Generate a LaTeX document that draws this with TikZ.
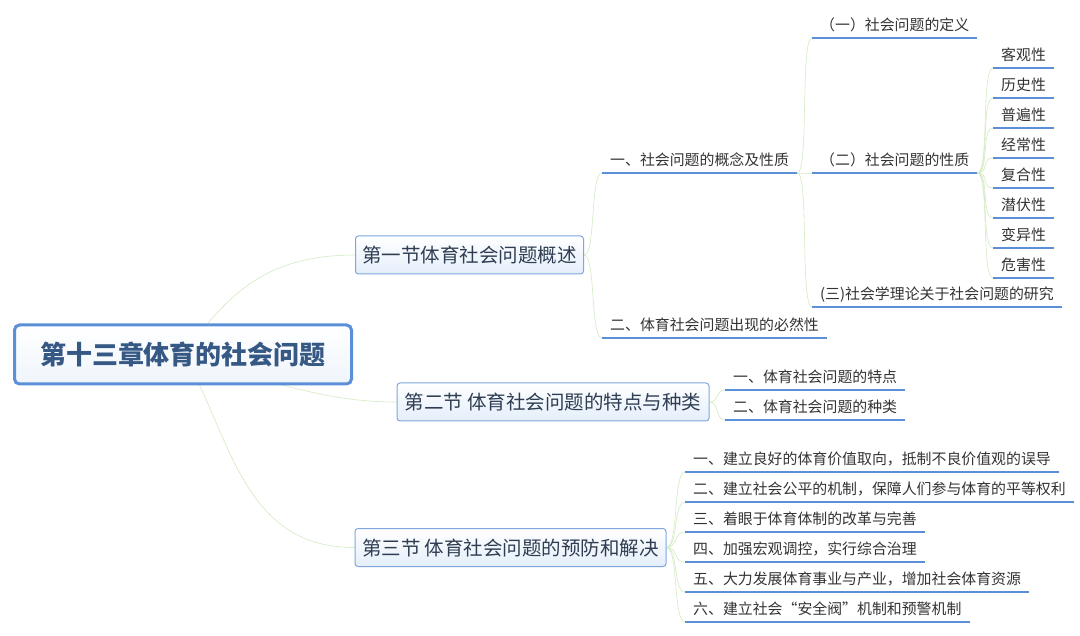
\documentclass[tikz,border=0pt]{standalone}
\usepackage{fontspec}
\setmainfont{Noto Sans CJK SC}
\usetikzlibrary{positioning, backgrounds}

\definecolor{lineblue}{HTML}{5B8FD6}
\definecolor{boxline}{HTML}{7FA7DE}
\definecolor{boxbot}{HTML}{E4EEFA}
\definecolor{rootline}{HTML}{5B8FD8}
\definecolor{roottext}{HTML}{365884}
\definecolor{sectext}{HTML}{2E3D52}
\definecolor{leaftext}{HTML}{333333}
\definecolor{linkgreen}{HTML}{D3EBC2}

\begin{document}
\begin{tikzpicture}[
        x=1pt, y=-1pt,
        root/.style={draw=rootline, line width=3pt, rounded corners=5pt, top color=white, bottom color=boxbot!60,
            text=roottext, font=\fontsize{26}{30}\selectfont\bfseries, text height=19.8pt, text depth=0pt,
            minimum width=337pt, minimum height=59pt},
        sec/.style={draw=boxline, line width=1pt, rounded corners=3pt, top color=white, bottom color=boxbot,
            text=sectext, font=\fontsize{19.5}{23}\selectfont, text height=15.4pt, text depth=0.4pt,
            minimum height=38pt},
        leaf/.style={anchor=south west, text=leaftext, font=\fontsize{14.9}{17}\selectfont,
            inner xsep=8pt, inner ysep=0pt, text height=12pt, text depth=7.4pt,
            append after command={\pgfextra{\draw[lineblue, line width=1.6pt]
                (\tikzlastnode.south west) -- (\tikzlastnode.south east);}}},
        link/.style={draw=linkgreen, line width=0.6pt}
        ]
        \useasboundingbox (0,0) rectangle (1080,636);
        % centre and the three sections
        \node[root] (root) at (183,354.5) {第十三章体育的社会问题};
        \node[sec, minimum width=228pt] (sec1) at (469.5,255) {第一节体育社会问题概述};
        \node[sec, minimum width=312pt] (sec2) at (553,402) {第二节 体育社会问题的特点与种类};
        \node[sec, minimum width=311pt] (sec3) at (510.5,547.5) {第三节 体育社会问题的预防和解决};
        % section one
        \node[leaf] (s1a) at (602,173) {一、社会问题的概念及性质};
        \node[leaf] (s1b) at (602,338) {二、体育社会问题出现的必然性};
        \node[leaf] (def) at (812,38) {（一）社会问题的定义};
        \node[leaf] (nat) at (812,173) {（二）社会问题的性质};
        \node[leaf] (res) at (812,307) {(三)社会学理论关于社会问题的研究};
        \foreach \t [count=\i] in {客观性,历史性,普遍性,经常性,复合性,潜伏性,变异性,危害性}
            \node[leaf] (p\i) at (993,38+30*\i) {\t};
        % section two
        \node[leaf] (s2a) at (725,390) {一、体育社会问题的特点};
        \node[leaf] (s2b) at (725,420) {二、体育社会问题的种类};
        % section three
        \foreach \t [count=\i] in {一、建立良好的体育价值取向，抵制不良价值观的误导,
                二、建立社会公平的机制，保障人们参与体育的平等权利,
                三、着眼于体育体制的改革与完善,
                四、加强宏观调控，实行综合治理,
                五、大力发展体育事业与产业，增加社会体育资源,
                六、建立社会“安全阀”机制和预警机制}
            \node[leaf] (q\i) at (685,442+30*\i) {\t};
        % connectors
        \begin{scope}[on background layer]
            \fill[white] (0,0) rectangle (1080,636);
            \draw[link] (root.center) .. controls (225,300) and (260,255) .. (sec1.west);
            \draw[link] (root.center) .. controls (290,390) and (340,402) .. (sec2.west);
            \draw[link] (root.center) .. controls (230,430) and (240,548) .. (sec3.west);
            \foreach \c in {s1a,s1b}
                \draw[link] (sec1.east) .. controls +(12,0) and +(-12,0) .. (\c.south west);
            \foreach \c in {def,nat,res}
                \draw[link] (s1a.south east) .. controls +(12,0) and +(-12,0) .. (\c.south west);
            \foreach \i in {1,...,8}
                \draw[link] (nat.south east) .. controls +(12,0) and +(-12,0) .. (p\i.south west);
            \foreach \c in {s2a,s2b}
                \draw[link] (sec2.east) .. controls +(10,0) and +(-10,0) .. (\c.south west);
            \foreach \i in {1,...,6}
                \draw[link] (sec3.east) .. controls +(12,0) and +(-12,0) .. (q\i.south west);
        \end{scope}
    \end{tikzpicture}
\end{document}
